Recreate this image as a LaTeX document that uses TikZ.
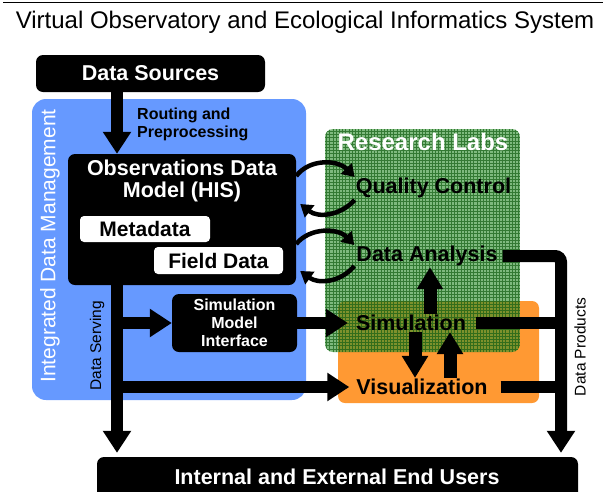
\documentclass[tikz,border=0pt]{standalone}
\usepackage{fontspec}
\setmainfont{Liberation Sans}
\usetikzlibrary{arrows.meta,calc}
\definecolor{idmblue}{RGB}{102,153,255}
\definecolor{labgreen}{RGB}{40,140,40}
\definecolor{gridgreen}{RGB}{20,95,20}
\definecolor{vizorange}{RGB}{255,153,51}
\tikzset{
  blackbox/.style={fill=black, rounded corners=7pt, inner sep=0pt, text=white,
    font=\fontsize{21.5}{22}\selectfont\bfseries, align=center},
  whitebox/.style={fill=white, rounded corners=4pt, inner sep=0pt, text=black,
    font=\fontsize{21}{22}\selectfont\bfseries},
  boxtext/.style={text=white, inner sep=0pt, align=center,
    font=\fontsize{21.5}{22}\selectfont\bfseries},
  labtext/.style={font=\fontsize{21.5}{22}\selectfont\bfseries, text=black, inner sep=1pt},
  bigarrow/.style={line width=12pt, -{Triangle[width=27pt,length=22pt]}},
  midarrow/.style={line width=13pt, -{Triangle[width=25pt,length=22pt]}},
  curvarrow/.style={line width=4.5pt, -{Triangle[width=15pt,length=12pt]}},
  thickline/.style={line width=12pt},
  sidetext/.style={font=\fontsize{15.5}{16}\selectfont, rotate=90, inner sep=0pt},
}
\begin{document}
\begin{tikzpicture}[x=1pt,y=-1pt]
\useasboundingbox (0,0) rectangle (606,491);
\clip (0,0) rectangle (606,491);
\draw[line width=1pt] (3,2) -- (603,2);
\node[font=\fontsize{24}{26}\selectfont, inner sep=0pt] (title) at (305,22)
  {Virtual Observatory and Ecological Informatics System};

% regions
\node[fill=idmblue, rounded corners=14pt, minimum width=274pt, minimum height=301pt, inner sep=0pt] (idm) at (169,249.5) {};
\node[sidetext, font=\fontsize{21}{22}\selectfont, text=white] (idmt) at (50,246) {Integrated Data Management};
\node[fill=vizorange, rounded corners=7pt, minimum width=201pt, minimum height=102pt, inner sep=0pt] (ora) at (438.5,352) {};
\begin{scope}
  \clip[rounded corners=8pt] (325,129) rectangle (520,352);
  \fill[labgreen, opacity=0.6] (325,129) rectangle (520,352);
  \draw[gridgreen, line width=0.5pt, opacity=0.7, step=3.2pt] (325,129) grid (520,352);
\end{scope}
\node[font=\fontsize{24}{26}\selectfont\bfseries, text=white, inner sep=0pt] (rl) at (423,142) {Research Labs};

% boxes
\node[blackbox, minimum width=229pt, minimum height=37pt] (ds) at (150.5,73.5) {Data Sources};
\node[anchor=north west, align=left, font=\fontsize{16}{18}\selectfont\bfseries, inner sep=0pt] (route) at (137,108) {Routing and\\Preprocessing};
\node[blackbox, minimum width=228pt, minimum height=131pt] (odm) at (182,219.5) {};
\node[boxtext] (odmt) at (182,181) {Observations Data\\Model (HIS)};
\node[whitebox, minimum width=130pt, minimum height=26pt] (meta) at (145,229) {Metadata};
\node[whitebox, minimum width=129pt, minimum height=27pt] (field) at (218.5,260.5) {Field Data};
\node[blackbox, minimum width=125pt, minimum height=58pt, font=\fontsize{16}{18}\selectfont\bfseries] (smi) at (234.5,323) {Simulation\\Model\\Interface};
\node[blackbox, minimum width=481pt, minimum height=48pt] (users) at (337.5,481) {};
\node[boxtext] (userst) at (337,477) {Internal and External End Users};

% lab texts
\node[labtext] (qc) at (433.5,188) {Quality Control};
\node[labtext] (da) at (427,256) {Data Analysis};
\node[labtext] (sim) at (411,323) {Simulation};
\node[labtext] (vis) at (422,387) {Visualization};

\node[sidetext] (dst) at (97,346) {Data Serving};
\node[sidetext] (dpt) at (580,347) {Data Products};

% connectors
\coordinate (sv) at (117,0);
\coordinate (dp) at (561,0);
\draw[bigarrow] (ds.south -| sv) -- (odm.north -| sv);
\draw[bigarrow, shorten >=4pt] (odm.south -| sv) -- (users.north -| sv);
\draw[bigarrow] (smi.west -| sv) -- (smi.west);
\draw[bigarrow, shorten >=7pt] (smi.east) -- (sim.west);
\draw[bigarrow, shorten >=6pt] (vis.west -| sv) -- (vis.west);

\draw[midarrow] (sim.north -| 430,0) -- (da.south -| 430,0);
\draw[midarrow] (sim.south -| 415,0) -- (vis.north -| 415,0);
\draw[midarrow] (vis.north -| 450,0) -- (sim.south -| 450,0);

\draw[thickline, rounded corners=6pt, -{Triangle[width=27pt,length=22pt]}, shorten <=4pt, shorten >=4pt]
  (da.east) -- (da.east -| dp) -- (users.north -| dp);
\draw[thickline, shorten <=9pt] (sim.east) -- (sim.east -| dp);
\draw[thickline, shorten <=12pt] (vis.east) -- (vis.east -| dp);

\draw[curvarrow] (odm.east |- 0,176) .. controls (310,158) and (338,160) .. ($(qc.west)+(0,-11)$);
\draw[curvarrow] ($(qc.west)+(0,12)$) .. controls (340,216) and (318,218) .. ($(odm.east |- 0,204)+(4,0)$);
\draw[curvarrow] (odm.east |- 0,244) .. controls (310,227) and (338,228) .. ($(da.west)+(-1,-11)$);
\draw[curvarrow] ($(da.west)+(-1,10)$) .. controls (340,283) and (318,284) .. ($(odm.east |- 0,271)+(4,0)$);
\end{tikzpicture}
\end{document}
